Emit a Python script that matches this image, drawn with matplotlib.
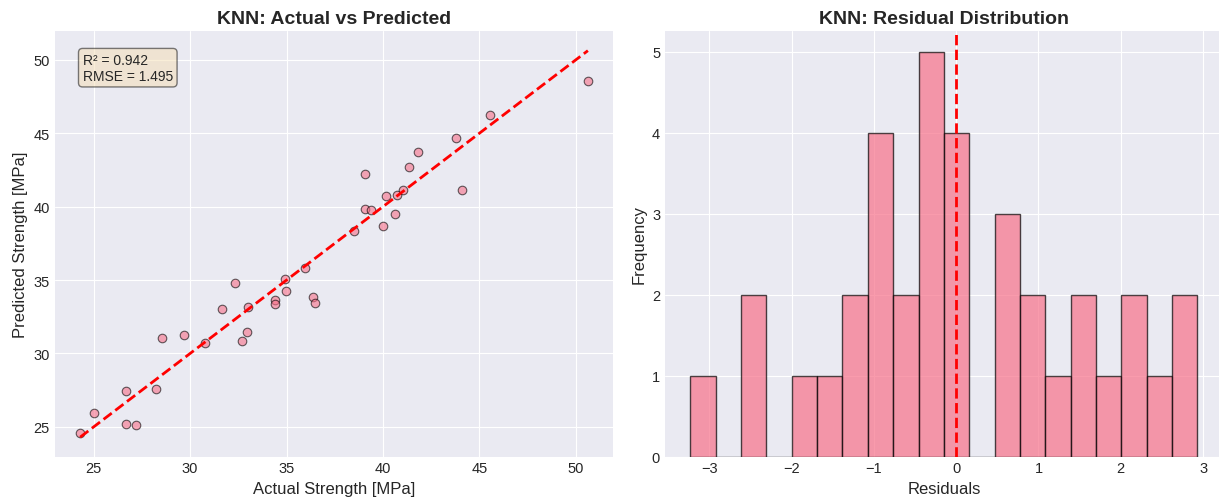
import numpy as np
import matplotlib
matplotlib.use("Agg")
import matplotlib.pyplot as plt

# ---- data ----
actual = [24.30, 25.00, 26.66, 26.66, 27.21, 28.21, 28.56, 29.66, 30.77, 31.68,
          32.34, 32.67, 32.95, 33.00, 34.38, 34.40, 34.92, 34.98, 35.98, 36.37,
          36.47, 38.51, 39.06, 39.06, 39.37, 40.01, 40.17, 40.60, 40.70, 41.05,
          41.34, 41.82, 43.76, 44.07, 45.57, 50.62]
predicted = [24.57, 25.97, 27.45, 25.20, 25.14, 27.59, 31.07, 31.27, 30.73, 33.04,
             34.82, 30.84, 31.48, 33.18, 33.66, 33.38, 35.09, 34.25, 35.79, 33.88,
             33.47, 38.36, 42.25, 39.84, 39.75, 38.70, 40.75, 39.50, 40.77, 41.16,
             42.68, 43.70, 44.70, 41.16, 46.25, 48.52]

r2_text = "R² = 0.942\nRMSE = 1.495"

resid_counts = [1, 0, 2, 0, 1, 1, 2, 4, 2, 5, 4, 0, 3, 2, 1, 2, 1, 2, 1, 2]
resid_min, resid_max = -3.230, 2.931

model_name = "KNN"

# ---- style ----
plt.style.use("seaborn-v0_8-darkgrid")
plt.rcParams["font.family"] = ["Liberation Sans", "DejaVu Sans"]

pink = "#f77189"

fig = plt.figure(figsize=(12.19, 5.02), dpi=100)
ax1 = fig.add_axes([0.0449, 0.0886, 0.4582, 0.847])
ax2 = fig.add_axes([0.5455, 0.0886, 0.4576, 0.847])

# Left: actual vs predicted
ax1.scatter(actual, predicted, s=38, color=pink, alpha=0.6, edgecolors="k", linewidths=0.8)
lo = min(min(actual), min(predicted))
hi = max(max(actual), max(predicted))
ax1.plot([lo, hi], [lo, hi], "r--", lw=2)
ax1.set_xlabel("Actual Strength [MPa]", fontsize=12)
ax1.set_ylabel("Predicted Strength [MPa]", fontsize=12)
ax1.set_title(f"{model_name}: Actual vs Predicted", fontsize=14, fontweight="bold")
ax1.tick_params(labelsize=10.5)
ax1.text(0.05, 0.95, r2_text, transform=ax1.transAxes, fontsize=10,
         va="top", ha="left",
         bbox=dict(boxstyle="round", facecolor="wheat", alpha=0.5))

# Right: residual histogram
edges = np.linspace(resid_min, resid_max, len(resid_counts) + 1)
centers = (edges[:-1] + edges[1:]) / 2
ax2.hist(centers, bins=edges, weights=resid_counts, color=pink, alpha=0.7,
         edgecolor="black", linewidth=1)
ax2.axvline(0, color="red", linestyle="--", lw=2)
ax2.set_xlabel("Residuals", fontsize=12)
ax2.set_ylabel("Frequency", fontsize=12)
ax2.set_title(f"{model_name}: Residual Distribution", fontsize=14, fontweight="bold")
ax2.tick_params(labelsize=10.5)

fig.savefig("out.png", dpi=100)
